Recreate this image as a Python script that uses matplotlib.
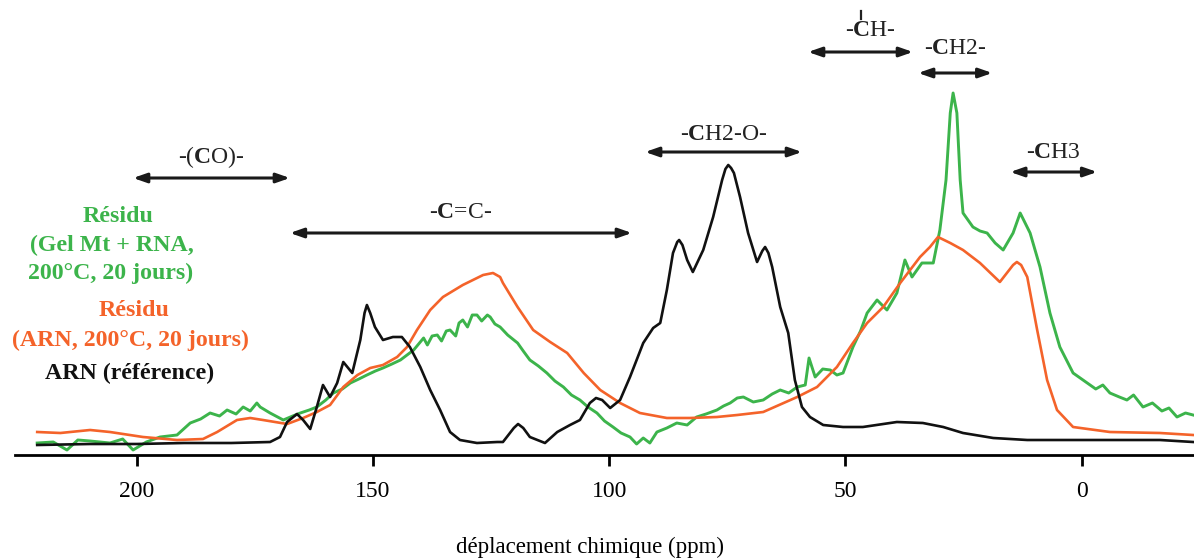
import matplotlib
matplotlib.use("Agg")
import matplotlib.pyplot as plt

plt.rcParams["font.family"] = ["Liberation Serif", "DejaVu Serif"]
plt.rcParams["mathtext.fontset"] = "custom"
plt.rcParams["mathtext.rm"] = "Liberation Serif"
plt.rcParams["mathtext.bf"] = "Liberation Serif:bold"

# ARN (référence) - ppm / intensité (u.a.)
arn_ppm = [221.1, 210, 200, 190, 180, 171.8, 169.7, 168.2, 166.1, 164.8, 163.3, 161.9,
           160.6, 159.1, 157.6, 156.3, 154.4, 152.7, 151.8, 151.3, 150.6, 149.6, 147.9,
           145.8, 143.9, 142.2, 140.0, 137.9, 135.8, 133.7, 131.6, 128.0, 123.7, 122.5,
           120.2, 119.3, 118.2, 116.8, 113.6, 111.0, 108.3, 106.2, 104.1, 102.8, 101.5,
           99.8, 97.7, 95.6, 92.8, 90.7, 89.2, 87.8, 86.5, 85.6, 85.2, 84.5, 83.5, 82.3,
           80.1, 78.0, 76.1, 75.4, 74.8, 74.2, 73.6, 72.3, 70.6, 68.7, 67.6, 67.0, 66.3,
           65.5, 63.8, 62.1, 60.7, 59.2, 57.5, 54.7, 50.5, 46.3, 39.1, 33.6, 29.3,
           25.1, 18.7, 11.5, -2.4, -16.6, -23.6]
arn_int = [10, 11, 11, 12, 12, 13, 18, 33, 41, 35, 26, 48,
           70, 58, 72, 93, 82, 115, 142, 150, 142, 128, 115,
           118, 118, 108, 88, 65, 45, 23, 15, 12, 13, 13,
           27, 31, 27, 18, 12, 23, 30, 35, 52, 57, 55,
           47, 55, 78, 112, 127, 132, 165, 202, 213, 215, 210, 195, 183,
           205, 238, 275, 286, 290, 287, 282, 258, 222, 193, 204, 208, 202,
           188, 148, 122, 75, 48, 38, 30, 28, 28, 33, 32, 28,
           22, 17, 15, 15, 15, 13]

# Résidu (ARN, 200°C, 20 jours)
arn200_ppm = [221.1, 216.2, 209.9, 205.7, 198.7, 191.5, 186.0, 183.0, 178.8, 176.0,
              173.3, 168.2, 164.8, 161.9, 159.1, 156.3, 153.3, 150.6, 147.9, 144.9,
              142.8, 140.7, 137.9, 135.2, 131.0, 126.7, 124.6, 123.1, 122.5, 119.4,
              116.1, 112.5, 108.9, 105.4, 101.9, 97.7, 93.5, 87.8, 82.9, 77.2, 72.9,
              67.4, 60.2, 56.0, 51.8, 48.4, 45.4, 42.0, 38.4, 34.2, 32.1, 30.4, 27.8,
              25.1, 21.5, 17.3, 14.5, 13.7, 12.8, 11.5, 9.4, 7.3, 5.2, 1.8, -6.0, -16.6, -23.6]
arn200_int = [23, 22, 25, 23, 18, 15, 16, 23, 35, 37,
              35, 31, 37, 43, 50, 68, 80, 87, 90, 98,
              108, 125, 145, 158, 170, 180, 182, 178, 172, 148,
              125, 113, 102, 82, 65, 52, 42, 37, 37, 38, 40,
              43, 58, 68, 88, 112, 132, 148, 172, 198, 208, 218, 212,
              205, 192, 173, 190, 193, 190, 178, 125, 75, 45, 28, 23, 22, 20]

# Résidu (Gel Mt + RNA, 200°C, 20 jours)
gel_ppm = [221.1, 217.7, 214.8, 212.5, 209.9, 205.7, 203, 200.8, 198, 195.1, 191.5,
           188.7, 186.5, 184.5, 182.5, 180.9, 179, 177.5, 176, 174.6, 173.9, 171.8,
           169.0, 167, 165.4, 163.5, 161.9, 160, 158.4, 156.5, 154.8, 153, 151.3, 149.5,
           147.9, 146, 144.2, 142.8, 141.4, 139.3, 138.5, 137.5, 136.4, 135.5, 134.5,
           133.7, 132.5, 131.8, 131.0, 130.0, 129.0, 128.0, 127.0, 125.8, 125.2,
           124.2, 123.1, 121.5, 119.4, 118.2, 116.8, 115, 113.2, 111.5, 109.7, 108,
           106.2, 104.5, 102.6, 101, 99.2, 97.5, 95.6, 94.2, 92.8, 91.4, 89.9, 87.8,
           85.7, 83.5, 81.5, 79.5, 77.2, 75.8, 74.4, 72.9, 71.6, 69.5, 67.4, 65.5,
           63.8, 62, 60.2, 58.5, 57.7, 56.4, 54.8, 53.2, 51.8, 50.5, 48.4, 46.8,
           45.4, 43.3, 41.2, 39.1, 37.4, 35.9, 33.8, 31.4, 30.0, 28.7, 27.8, 27.2,
           26.4, 25.7, 25.1, 23.0, 21.5, 20.0, 18.3, 16.6, 14.5, 13.0, 10.9, 8.8,
           6.7, 4.6, 1.8, -1.2, -3.0, -4.5, -6.0, -8.0, -9.6, -11.0, -13.0, -15.0,
           -17.0, -18.5, -20.2, -22.0, -23.6]
gel_int = [12, 13, 5, 15, 14, 12, 16, 5, 13, 18, 20,
           32, 36, 42, 39, 45, 41, 48, 44, 52, 48, 42,
           35, 39, 42, 45, 48, 55, 62, 66, 72, 76, 80, 84,
           87, 91, 95, 100, 105, 117, 110, 119, 120, 114, 124,
           125, 119, 132, 135, 128, 140, 140, 134, 140, 138,
           131, 128, 120, 112, 104, 95, 89, 82, 74, 68, 60,
           55, 48, 42, 34, 28, 22, 18, 11, 17, 12, 23, 27,
           32, 30, 38, 41, 45, 49, 52, 57, 58, 53, 55, 61,
           65, 62, 68, 70, 97, 78, 86, 85, 80, 82, 108, 124,
           142, 155, 145, 162, 195, 178, 192, 192, 225, 275, 342, 362,
           342, 275, 242, 228, 224, 222, 212, 205, 222, 242, 222, 188,
           142, 108, 82, 72, 66, 70, 62, 58, 55, 60, 48, 52,
           44, 47, 38, 42, 40]

tick_pos = [200, 150, 100, 50, 0]

# annotations: (texte, ppm gauche, ppm droite, hauteur flèche, centre texte, hauteur texte)
bands = [
    (r"-($\mathbf{C}$O)-", 200.8, 167.6, 277, 184.2, 298),
    (r"-$\mathbf{C}$=C-", 167.6, 95.2, 222, 131.4, 242),
    (r"-$\mathbf{C}$H2-O-", 92.4, 59.2, 303, 75.8, 320),
    (r"-$\mathbf{C}$H-", 57.9, 35.7, 403, 44.7, 424),
    (r"-$\mathbf{C}$H2-", 34.6, 18.9, 382, 26.8, 406),
    (r"-$\mathbf{C}$H3", 15.1, -3.3, 283, 5.9, 303),
]

W, H = 1194, 559
fig = plt.figure(figsize=(W / 100, H / 100), dpi=100)
ax = fig.add_axes([15 / W, 104 / H, (W - 15) / W, 455 / H])

green = "#3cb44b"
orange = "#f4632a"
ax.plot(arn_ppm, arn_int, color="#111111", lw=1.9, zorder=3)
ax.plot(arn200_ppm, arn200_int, color=orange, lw=1.9, zorder=2)
ax.plot(gel_ppm, gel_int, color=green, lw=2.1, zorder=1)

ax.set_xlim(225.8, -23.8)
ax.set_ylim(0, 455)
for s in ["top", "left", "right"]:
    ax.spines[s].set_visible(False)
ax.spines["bottom"].set_linewidth(2)
ax.set_yticks([])
ax.set_xticks(tick_pos)
ax.tick_params(axis="x", direction="out", length=8, width=2, labelsize=17, pad=11)
ax.set_xlabel("déplacement chimique (ppm)", fontsize=16.5)
ax.xaxis.set_label_coords(0.488, -0.18)

for txt, x0, x1, ya, tx, yt in bands:
    ax.annotate("", xy=(x1, ya), xytext=(x0, ya),
                arrowprops=dict(arrowstyle="<|-|>,head_length=0.8,head_width=0.28",
                                color="#1a1a1a", lw=2.2, shrinkA=0, shrinkB=0))
    ax.text(tx, yt, txt, ha="center", va="center", fontsize=17, color="#222222")
# petit trait au-dessus du C de -CH-
ax.plot([46.8, 46.8], [436, 444], color="#222222", lw=1.6)

legend_lines = [
    ("Résidu", 118, 217, green),
    ("(Gel Mt + RNA,", 112, 245, green),
    ("200°C, 20 jours)", 111, 273, green),
    ("Résidu", 134, 310, orange),
    ("(ARN, 200°C, 20 jours)", 130, 340, orange),
    ("ARN (référence)", 130, 373, "#111111"),
]
for txt, px, py, c in legend_lines:
    fig.text(px / W, 1 - py / H, txt, ha="center", va="center", fontsize=17.2,
             fontweight="bold", color=c)

fig.savefig("out.png", dpi=100)
